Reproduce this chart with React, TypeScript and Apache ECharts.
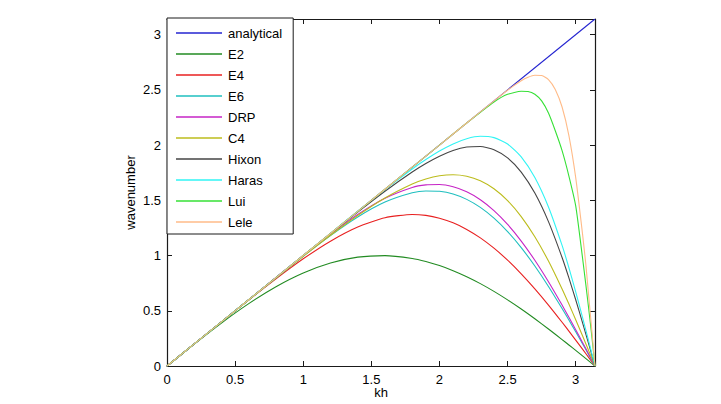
import React, { useEffect, useRef } from "react";
import * as echarts from "echarts";

const PI = Math.PI;

// Shared kh samples for the lower-order schemes
const kh = [0, 0.2, 0.4, 0.6, 0.8, 1.0, 1.2, 1.4, 1.6, 1.8, 1.9, 2.0, 2.1, 2.2, 2.3, 2.4, 2.5, 2.6, 2.7, 2.8, 2.9, 2.95, 3.0, 3.05, 3.1, PI];

const e2 = [0, 0.1987, 0.3894, 0.5646, 0.7174, 0.8415, 0.932, 0.9854, 0.9996, 0.9738, 0.9463, 0.9093, 0.8632, 0.8085, 0.7457, 0.6755, 0.5985, 0.5155, 0.4274, 0.335, 0.2392, 0.1904, 0.1411, 0.0915, 0.0416, 0];
const e4 = [0, 0.2, 0.3997, 0.5975, 0.7899, 0.9704, 1.1301, 1.2581, 1.3425, 1.3722, 1.3637, 1.3385, 1.2962, 1.2366, 1.1599, 1.0666, 0.9578, 0.8346, 0.6986, 0.5519, 0.3964, 0.3162, 0.2347, 0.1523, 0.0693, 0];
const e6 = [0, 0.2, 0.3999, 0.5998, 0.7987, 0.9941, 1.1807, 1.3486, 1.4837, 1.5678, 1.5847, 1.5817, 1.5569, 1.5086, 1.436, 1.3385, 1.2167, 1.0716, 0.9052, 0.7204, 0.5204, 0.4159, 0.3092, 0.2011, 0.0915, 0];
const drp = [0, 0.2, 0.4001, 0.6004, 0.8009, 1.0001, 1.1933, 1.3713, 1.519, 1.6168, 1.64, 1.6426, 1.6222, 1.5768, 1.5051, 1.4066, 1.2815, 1.131, 0.957, 0.7626, 0.5514, 0.4409, 0.3279, 0.2133, 0.097, 0];
const c4 = [0, 0.2, 0.3999, 0.5995, 0.798, 0.9937, 1.1836, 1.3624, 1.5216, 1.648, 1.6931, 1.7223, 1.732, 1.7184, 1.6774, 1.6049, 1.4976, 1.3529, 1.1699, 0.9501, 0.6975, 0.561, 0.4192, 0.2732, 0.1246, 0];
const hixon = [0, 0.2, 0.4, 0.6, 0.7999, 0.9995, 1.198, 1.3936, 1.5825, 1.7563, 1.8331, 1.8994, 1.951, 1.9827, 1.9877, 1.9578, 1.8838, 1.7559, 1.5653, 1.3071, 0.982, 0.7972, 0.6, 0.3931, 0.1799, 0];
const haras = [0, 0.2, 0.4, 0.6001, 0.8003, 1.0007, 1.2012, 1.4007, 1.5969, 1.7833, 1.869, 1.9462, 2.011, 2.058, 2.0799, 2.0676, 2.0096, 1.8935, 1.7067, 1.4401, 1.0919, 0.8896, 0.6715, 0.441, 0.202, 0];

// Finer kh samples for the spectral-like schemes near the cut-off
const khFine = [0, 0.4, 0.8, 1.2, 1.6, 2.0, 2.2, 2.4, 2.5, 2.6, 2.65, 2.7, 2.75, 2.8, 2.85, 2.9, 2.95, 3.0, 3.05, 3.075, 3.1, 3.12, PI];
const lui = [0, 0.4, 0.8, 1.2, 1.6, 2.0, 2.2, 2.39, 2.46, 2.487, 2.485, 2.46, 2.4, 2.29, 2.13, 1.95, 1.72, 1.45, 0.98, 0.73, 0.47, 0.25, 0];
const lele = [0, 0.4, 0.8, 1.2, 1.6, 2.0, 2.2, 2.4, 2.497, 2.582, 2.614, 2.632, 2.63, 2.593, 2.504, 2.345, 2.086, 1.705, 1.196, 0.911, 0.569, 0.298, 0];

const exactKh = [0, PI];
const exactK = [0, PI];

const schemeNames = ["analytical", "E2", "E4", "E6", "DRP", "C4", "Hixon", "Haras", "Lui", "Lele"];
const schemeColors = ["#2424d0", "#228b22", "#e82020", "#1fbfbf", "#c624c6", "#bcbc1c", "#454545", "#30f4f4", "#36e036", "#ffbb88"];

const FONT = "'Liberation Sans', Arial, Helvetica, sans-serif";
const TEXT = { fontFamily: FONT, fontSize: 13, color: "#000000" };

function pairs(xs: number[], ys: number[]) {
  return xs.map((x, i) => [x, ys[i]]);
}

function tickLabel(v: number) {
  const r = Math.round(v * 2) / 2;
  if (Math.abs(v - r) > 1e-9) return "";
  return String(r);
}

export default function App() {
  const ref = useRef<HTMLDivElement>(null);

  useEffect(() => {
    if (!ref.current) return;
    const chart = echarts.init(ref.current, undefined, { renderer: "svg" });

    const curves: Array<[number[], number[]]> = [
      [exactKh, exactK],
      [kh, e2],
      [kh, e4],
      [kh, e6],
      [kh, drp],
      [kh, c4],
      [kh, hixon],
      [kh, haras],
      [khFine, lui],
      [khFine, lele],
    ];

    const makeBase = () => ({
      type: "value" as const,
      min: 0,
      max: PI,
      interval: 0.5,
      splitLine: { show: false },
      axisLine: { show: true, onZero: false, lineStyle: { color: "#1a1a1a", width: 1.2 } },
      axisTick: { show: true, inside: true, length: 5, lineStyle: { color: "#1a1a1a", width: 1 } },
    });

    chart.setOption({
      animation: false,
      backgroundColor: "#ffffff",
      grid: { left: 167, right: 126, top: 19, bottom: 38, containLabel: false, outerBoundsMode: "none" },
      legend: {
        orient: "vertical",
        left: 167,
        top: 18,
        data: schemeNames.map((n) => ({ name: n, icon: "rect" })),
        itemWidth: 46,
        itemHeight: 1.4,
        itemGap: 7,
        padding: [8, 11, 5, 9],
        backgroundColor: "#ffffff",
        borderColor: "#1a1a1a",
        borderWidth: 1,
        borderRadius: 0,
        selectedMode: false,
        textStyle: { ...TEXT, lineHeight: 14, padding: [0, 0, 0, 1] },
      },
      xAxis: [
        {
          ...makeBase(),
          position: "bottom",
          name: "kh",
          nameLocation: "middle",
          nameGap: 20,
          nameMoveOverlap: false,
          nameTextStyle: { ...TEXT },
          axisLabel: { ...TEXT, margin: 7, formatter: tickLabel, showMaxLabel: false },
        },
        { ...makeBase(), position: "top", axisLabel: { show: false } },
      ],
      yAxis: [
        {
          ...makeBase(),
          position: "left",
          name: "wavenumber",
          nameLocation: "middle",
          nameGap: 30,
          nameMoveOverlap: false,
          nameTextStyle: { ...TEXT },
          axisLabel: { ...TEXT, margin: 6, formatter: tickLabel, showMaxLabel: false },
        },
        { ...makeBase(), position: "right", axisLabel: { show: false } },
      ],
      series: curves.map(([xs, ys], i) => ({
        name: schemeNames[i],
        type: "line",
        data: pairs(xs, ys),
        xAxisIndex: 0,
        yAxisIndex: 0,
        symbol: "none",
        smooth: i === 0 ? false : 0.2,
        lineStyle: { color: schemeColors[i], width: 1.1 },
        itemStyle: { color: schemeColors[i] },
      })),
    });

    return () => chart.dispose();
  }, []);

  return (
    <div
      ref={ref}
      style={{ position: "absolute", left: 0, top: 0, width: 721, height: 404 }}
    />
  );
}
